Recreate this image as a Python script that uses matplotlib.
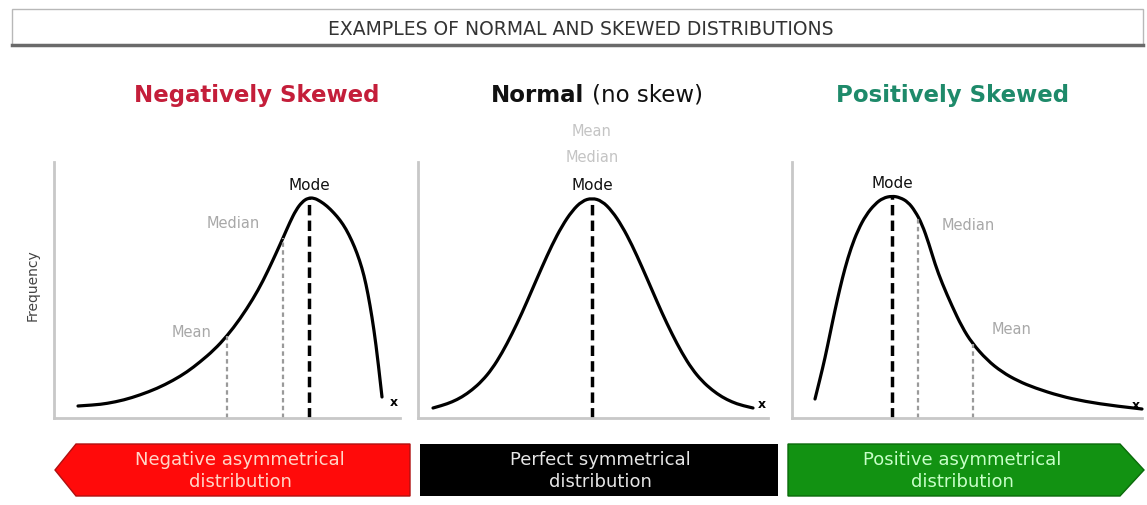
import matplotlib
matplotlib.use('Agg')
import matplotlib.pyplot as plt
from matplotlib.patches import Polygon, Rectangle, PathPatch
from matplotlib.path import Path

# figure size in pixels
W, H = 1147, 506

# curve points: x offset from left axis, height above baseline (px)
neg_x = [24, 40, 53, 70, 86, 103, 119, 133, 146, 160, 173, 186, 199, 209, 219, 224, 229,
         236, 242, 248, 254, 260, 266, 273, 280, 286, 292, 298, 303, 308, 312, 316,
         320, 324, 328]
neg_y = [12, 13, 14.5, 18, 23, 29.5, 37.5, 46, 56, 68, 82, 99, 119, 137, 158, 169, 180,
         196, 208, 216, 220, 220, 217, 212, 205, 198, 189, 177, 165, 150, 134, 113,
         88, 57, 21]

norm_x = [15, 24, 34, 44, 54, 64, 74, 84, 94, 104, 114, 124, 134, 144, 154, 164, 174,
          184, 194, 204, 214, 224, 234, 244, 254, 264, 274, 284, 294, 304, 314, 324, 335]
norm_y = [10, 12.5, 16, 21, 28, 37, 49, 65, 84, 105, 128, 151, 173, 192, 207, 217, 220,
          217, 207, 192, 173, 151, 128, 105, 84, 65, 49, 37, 28, 21, 16, 12.5, 10]

pos_x = [23, 28, 33, 38, 43, 48, 53, 59, 66, 74, 83, 91, 100, 108, 116, 123, 130, 137,
         143, 150, 160, 170, 180, 195, 210, 226, 243, 268, 293, 323, 350]
pos_y = [19, 39, 60, 84, 108, 130, 150, 170, 188, 203, 214, 220, 222, 220.5, 216, 207,
         194, 174, 154, 135, 112, 91, 75, 58, 46, 37, 30, 22, 16.5, 12, 9]

# marker lines: (position, height reached)
neg_lines = {'Mean': (173, 82), 'Median': (229, 180), 'Mode': (255, 220)}
norm_lines = {'Mode': (174, 220)}
pos_lines = {'Mode': (100, 222), 'Median': (126, 200), 'Mean': (181, 74)}

panel_titles = ['Negatively Skewed', 'Normal', 'Positively Skewed']
banner_texts = ['Negative asymmetrical\ndistribution',
                'Perfect symmetrical\ndistribution',
                'Positive asymmetrical\ndistribution']


def smooth_path(xs, ys):
    # quadratic bezier through the midpoints, read points act as control points
    pts = list(zip(xs, ys))
    verts = [pts[0]]
    codes = [Path.MOVETO]
    for i in range(1, len(pts) - 2):
        mid = ((pts[i][0] + pts[i + 1][0]) / 2, (pts[i][1] + pts[i + 1][1]) / 2)
        verts += [pts[i], mid]
        codes += [Path.CURVE3, Path.CURVE3]
    verts += [pts[-2], pts[-1]]
    codes += [Path.CURVE3, Path.CURVE3]
    return Path(verts, codes)


fig = plt.figure(figsize=(W / 100, H / 100), dpi=100)
plt.rcParams['font.family'] = ['DejaVu Sans']

# overlay in pixel coords for the decorations
bg = fig.add_axes([0, 0, 1, 1], zorder=0)
bg.set_xlim(0, W)
bg.set_ylim(H, 0)
bg.axis('off')

# title box
bg.add_patch(Rectangle((12, 10), 1131, 36, facecolor='white', edgecolor='#b8b8b8', lw=1))
bg.plot([12, 1143], [46, 46], color='#6a6a6a', lw=2.5)
bg.text(581, 29, 'EXAMPLES OF NORMAL AND SKEWED DISTRIBUTIONS', ha='center', va='center',
        fontsize=13.5, color='#333333')

# panel titles
bg.text(257, 95, panel_titles[0], ha='center', va='center', fontsize=16.5,
        fontweight='bold', color='#c41e3a')
bg.text(584, 95, panel_titles[1], ha='right', va='center', fontsize=16.5,
        fontweight='bold', color='#111111')
bg.text(592, 95, '(no skew)', ha='left', va='center', fontsize=16.5, color='#111111')
bg.text(953, 95, panel_titles[2], ha='center', va='center', fontsize=16.5,
        fontweight='bold', color='#1e8a6a')

# banners
bg.add_patch(Polygon([(55, 471), (76, 445), (410, 445), (410, 497), (76, 497)],
                     closed=True, facecolor='#ff0a0a', edgecolor='#b01010', lw=1))
bg.add_patch(Rectangle((420, 445), 358, 52, facecolor='#000000', edgecolor='none'))
bg.add_patch(Polygon([(788, 445), (1120, 445), (1144, 471), (1120, 497), (788, 497)],
                     closed=True, facecolor='#129212', edgecolor='#0a6a0a', lw=1))
bg.text(240, 471, banner_texts[0], ha='center', va='center', fontsize=13,
        color='#ffd6c8', linespacing=1.3)
bg.text(600, 471, banner_texts[1], ha='center', va='center', fontsize=13,
        color='#e6e6e6', linespacing=1.3)
bg.text(962, 471, banner_texts[2], ha='center', va='center', fontsize=13,
        color='#c8ffc8', linespacing=1.3)

# y label
bg.text(33, 285, 'Frequency', rotation=90, ha='center', va='center', fontsize=10,
        color='#444444')

# the three curve panels: (left px, width px)
panels = [(54, 346, neg_x, neg_y, neg_lines),
          (418, 350, norm_x, norm_y, norm_lines),
          (792, 350, pos_x, pos_y, pos_lines)]
base, top = 419, 163
axes = []

for left, width, xs, ys, lines in panels:
    ax = fig.add_axes([left / W, (H - base) / H, width / W, (base - top) / H], zorder=1)
    axes.append(ax)
    ax.patch.set_alpha(0)
    ax.set_xlim(0, width)
    ax.set_ylim(0, base - top)
    for s in ['top', 'right']:
        ax.spines[s].set_visible(False)
    for s in ['left', 'bottom']:
        ax.spines[s].set_color('#c8c8c8')
        ax.spines[s].set_linewidth(2)
    ax.set_xticks([])
    ax.set_yticks([])

    for name, (lx, lh) in lines.items():
        if name == 'Mode':
            ax.plot([lx, lx], [0, lh], color='black', lw=2.5, ls=(0, (3, 1.5)),
                    solid_capstyle='butt', clip_on=False)
        else:
            ax.plot([lx, lx], [0, lh], color='#9a9a9a', lw=1.6, ls=(0, (2, 1.5)),
                    clip_on=False)
    ax.add_patch(PathPatch(smooth_path(xs, ys), fill=False, edgecolor='black', lw=2.3,
                           capstyle='round', clip_on=False))
    mx = min(xs[-1] + 12, width - 6)
    ax.text(mx, ys[-1] + (4 if mx < xs[-1] + 12 else -5), 'x', ha='center', va='center',
            fontsize=9, fontweight='bold', clip_on=False)
    ax.text(lines['Mode'][0], lines['Mode'][1] + 14, 'Mode', ha='center', va='center',
            fontsize=11, color='#111111')
    if len(lines) == 1:
        ax.text(lines['Mode'][0], lines['Mode'][1] + 41, 'Median', ha='center',
                va='center', fontsize=10.5, color='#c4c4c4')
        ax.text(lines['Mode'][0], lines['Mode'][1] + 68, 'Mean', ha='center',
                va='center', fontsize=10.5, color='#c4c4c4')

# side labels for the skewed panels
ax1, ax3 = axes[0], axes[2]
ax1.text(neg_lines['Median'][0] - 50, 196, 'Median', ha='center', va='center',
         fontsize=10.5, color='#a8a8a8')
ax1.text(neg_lines['Mean'][0] - 35, 86, 'Mean', ha='center', va='center',
         fontsize=10.5, color='#a8a8a8')
ax3.text(pos_lines['Median'][0] + 50, 194, 'Median', ha='center', va='center',
         fontsize=10.5, color='#a8a8a8')
ax3.text(pos_lines['Mean'][0] + 39, 89, 'Mean', ha='center', va='center',
         fontsize=10.5, color='#a8a8a8')

fig.savefig('out.png', dpi=100)
